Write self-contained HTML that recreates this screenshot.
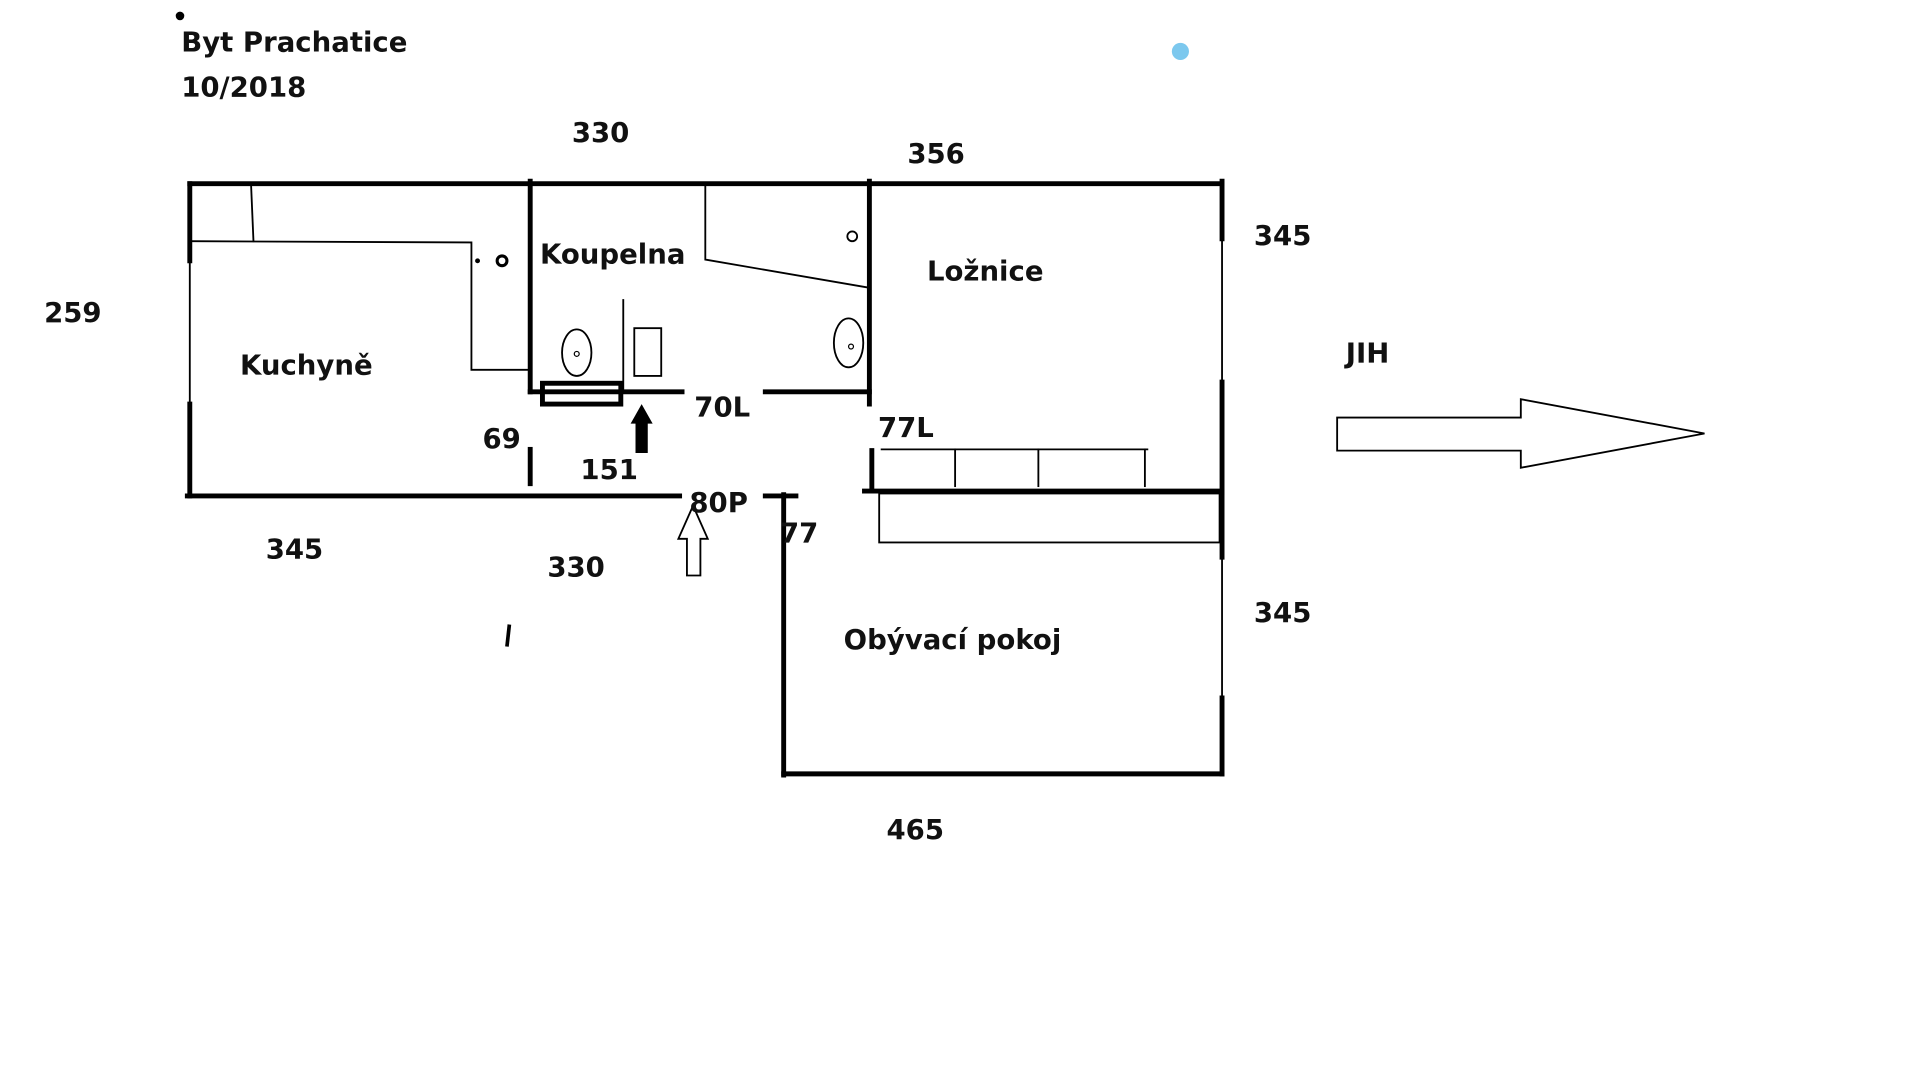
<!DOCTYPE html>
<html><head><meta charset="utf-8"><style>html,body{margin:0;padding:0;background:#fff;overflow:hidden}svg{display:block}text{font-family:"DejaVu Sans","Liberation Sans",sans-serif;font-weight:bold;font-size:22.5px;fill:#111}</style></head>
<body>
<svg width="1920" height="1080" viewBox="0 0 1568 882" preserveAspectRatio="none">
<rect width="1568" height="882" fill="#fff"/>
<g stroke="#000" fill="none" stroke-linecap="square">
<g stroke-width="4">
<line x1="155" y1="150" x2="998" y2="150"/>
<line x1="155" y1="150" x2="155" y2="213"/>
<line x1="155" y1="330" x2="155" y2="405"/>
<line x1="153" y1="405" x2="555" y2="405"/>
<line x1="433" y1="148" x2="433" y2="320"/>
<line x1="433" y1="367" x2="433" y2="395"/>
<line x1="433" y1="320" x2="557" y2="320"/>
<line x1="625" y1="320" x2="710" y2="320"/>
<line x1="710" y1="148" x2="710" y2="330"/>
<line x1="998" y1="148" x2="998" y2="195"/>
<line x1="998" y1="312" x2="998" y2="402"/>
<line x1="998" y1="402" x2="998" y2="455"/>
<line x1="998" y1="570" x2="998" y2="632"/>
<line x1="706" y1="401" x2="998" y2="401"/>
<line x1="712" y1="368" x2="712" y2="400"/>
<line x1="640" y1="404" x2="640" y2="633"/>
<line x1="640" y1="632" x2="998" y2="632"/>
<line x1="625" y1="405" x2="650" y2="405"/>
</g>
<g stroke-width="1.5">
<line x1="155" y1="213" x2="155" y2="330"/>
<line x1="998" y1="195" x2="998" y2="312"/>
<line x1="998" y1="455" x2="998" y2="570"/>
<line x1="205" y1="150" x2="207" y2="197"/>
<polyline points="157,197 385,198 385,302 433,302"/>
<polyline points="576,150 576,212 710,235"/>
<ellipse cx="693" cy="280" rx="12" ry="20"/>
<ellipse cx="471" cy="288" rx="12" ry="19"/>
<rect x="518" y="268" width="22" height="39"/>
<line x1="509" y1="245" x2="509" y2="318"/>
<line x1="720" y1="367" x2="937" y2="367"/>
<line x1="780" y1="367" x2="780" y2="397"/>
<line x1="848" y1="367" x2="848" y2="397"/>
<line x1="935" y1="367" x2="935" y2="397"/>
<rect x="718" y="403" width="278" height="40"/>
<polygon points="561,470 572,470 572,440 578,440 566,413 554,440 561,440"/>
<polygon points="1092,341 1242,341 1242,326 1392,354 1242,382 1242,368 1092,368"/>
</g>
<rect x="443" y="313" width="64" height="17" stroke-width="4"/>
<circle cx="410" cy="213" r="4" stroke-width="2.5"/>
<circle cx="471" cy="289" r="2" stroke-width="1"/>
<circle cx="695" cy="283" r="2" stroke-width="1"/>
<circle cx="696" cy="193" r="4" stroke-width="1.5"/>
</g>
<polygon points="519,370 529,370 529,346 533,346 524,330 515,346 519,346" fill="#000"/>
<circle cx="390" cy="213" r="2" fill="#000"/>
<circle cx="147" cy="13" r="3.5" fill="#000"/>
<circle cx="964" cy="42" r="7" fill="#7cc8ee"/>
<line x1="416" y1="510" x2="414" y2="528" stroke="#000" stroke-width="3"/>
<text x="148" y="42">Byt Prachatice</text>
<text x="148" y="79">10/2018</text>
<text x="467" y="116">330</text>
<text x="741" y="133">356</text>
<text x="1024" y="200">345</text>
<text x="36" y="263">259</text>
<text x="441" y="215">Koupelna</text>
<text x="757" y="229">Ložnice</text>
<text x="196" y="306">Kuchyně</text>
<text x="1099" y="296">JIH</text>
<text x="567" y="340">70L</text>
<text x="717" y="357">77L</text>
<text x="394" y="366">69</text>
<text x="474" y="391">151</text>
<text x="563" y="418">80P</text>
<text x="637" y="443">77</text>
<text x="217" y="456">345</text>
<text x="447" y="471">330</text>
<text x="1024" y="508">345</text>
<text x="689" y="530">Obývací pokoj</text>
<text x="724" y="685">465</text>
</svg>
</body></html>
